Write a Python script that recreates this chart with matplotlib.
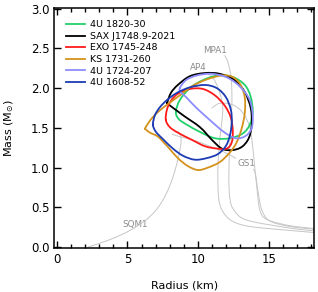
import matplotlib
matplotlib.use("Agg")
import matplotlib.pyplot as plt
from matplotlib.ticker import MultipleLocator
from matplotlib.path import Path
from matplotlib.patches import PathPatch
from matplotlib.lines import Line2D

plt.rcParams['font.family'] = ['DejaVu Sans']

# ---- data (radius in km, mass in solar masses) ----
names = ["4U 1820-30", "SAX J1748.9-2021", "EXO 1745-248",
         "KS 1731-260", "4U 1724-207", "4U 1608-52"]
colors = ["#22d16a", "#000000", "#ff1a1a", "#d4921c", "#8c8cff", "#1c3cb4"]

green_R = [8.43, 8.71, 9.42, 10.34, 11.40, 12.46, 13.31, 13.73, 13.87, 13.66, 13.17, 12.25, 11.19, 10.13, 9.21, 8.64]
green_M = [1.70, 1.85, 2.00, 2.10, 2.16, 2.14, 2.04, 1.89, 1.70, 1.54, 1.43, 1.37, 1.37, 1.45, 1.54, 1.61]

# black and orange have a sharp corner at their first (= last) point
black_R = [7.80, 8.08, 8.57, 9.42, 10.48, 11.54, 12.60, 13.31, 13.73, 13.80, 13.59, 13.09, 12.39, 11.68, 10.98, 10.13, 8.93, 7.80]
black_M = [1.81, 1.94, 2.04, 2.15, 2.19, 2.18, 2.10, 1.95, 1.75, 1.54, 1.37, 1.26, 1.22, 1.24, 1.35, 1.51, 1.66, 1.81]

red_R = [7.72, 7.80, 8.08, 8.57, 9.42, 10.34, 11.19, 11.89, 12.32, 12.46, 12.39, 12.04, 11.33, 10.48, 9.56, 8.57, 8.00]
red_M = [1.60, 1.73, 1.84, 1.93, 1.99, 1.99, 1.91, 1.78, 1.63, 1.46, 1.32, 1.24, 1.24, 1.27, 1.35, 1.44, 1.51]

orange_R = [6.24, 6.59, 7.16, 7.87, 8.71, 9.63, 10.62, 11.68, 12.46, 13.02, 13.31, 13.31, 13.10, 12.74, 12.25, 11.54, 10.69, 9.99, 9.28, 8.57, 7.87, 7.16, 6.59, 6.24]
orange_M = [1.49, 1.59, 1.70, 1.80, 1.91, 2.03, 2.11, 2.16, 2.14, 2.04, 1.88, 1.69, 1.50, 1.32, 1.19, 1.07, 1.00, 0.97, 1.02, 1.12, 1.26, 1.39, 1.44, 1.49]

purple_R = [8.71, 9.14, 9.92, 10.98, 12.11, 13.02, 13.66, 13.87, 13.80, 13.38, 12.67, 11.82, 10.83, 9.84, 9.14, 8.78]
purple_M = [2.00, 2.10, 2.16, 2.18, 2.13, 2.01, 1.85, 1.66, 1.50, 1.40, 1.37, 1.45, 1.60, 1.76, 1.89, 1.95]

blue_R = [6.81, 6.95, 7.30, 7.80, 8.50, 9.42, 10.48, 11.33, 11.96, 12.32, 12.39, 12.25, 11.96, 11.40, 10.62, 9.77, 8.93, 8.22, 7.51, 7.02]
blue_M = [1.54, 1.66, 1.76, 1.85, 1.94, 2.01, 2.04, 2.00, 1.89, 1.73, 1.56, 1.40, 1.27, 1.17, 1.12, 1.10, 1.15, 1.24, 1.36, 1.45]

# ---- equations of state ----
ap4_R = [10.55, 11.05, 11.40, 11.68, 11.75, 11.61, 11.47, 11.40, 11.47, 11.75, 12.39, 13.66, 16.49, 18.47]
ap4_M = [2.20, 2.13, 2.01, 1.85, 1.70, 1.47, 1.22, 0.91, 0.60, 0.45, 0.33, 0.26, 0.21, 0.18]

mpa1_R = [11.89, 12.11, 12.32, 12.39, 12.39, 12.32, 12.25, 12.18, 12.25, 12.53, 13.45, 16.49, 18.47]
mpa1_M = [2.41, 2.33, 2.16, 1.98, 1.76, 1.54, 1.29, 0.91, 0.62, 0.47, 0.34, 0.24, 0.20]

eos3_R = [10.98, 11.54, 12.46, 13.17, 13.66, 13.87, 14.01, 14.16, 14.37, 14.86, 16.49, 18.47]
eos3_M = [1.75, 1.81, 1.79, 1.69, 1.51, 1.26, 1.01, 0.76, 0.47, 0.35, 0.27, 0.23]

gs1_R = [8.16, 8.71, 9.77, 10.83, 11.68, 12.46, 12.95, 13.52, 14.01, 14.23, 14.51, 15.07, 16.49, 18.47]
gs1_M = [1.42, 1.39, 1.34, 1.27, 1.21, 1.14, 1.09, 1.04, 0.95, 0.72, 0.47, 0.33, 0.26, 0.22]

sqm1_R = [2.21, 3.06, 4.12, 5.18, 6.24, 7.09, 7.72, 8.22, 8.57, 8.78, 8.78, 8.57]
sqm1_M = [0.00, 0.05, 0.12, 0.21, 0.33, 0.48, 0.66, 0.88, 1.10, 1.29, 1.39, 1.46]

eos_labels = ["MPA1", "AP4", "GS1", "SQM1"]
eos_label_R = [11.2, 10.0, 13.4, 5.55]
eos_label_M = [2.48, 2.26, 1.05, 0.28]


def smooth_path(xs, ys, closed):
    """Smooth (Catmull-Rom style) Bezier path through the given points."""
    pts = list(zip(xs, ys))
    n = len(pts)
    verts = [pts[0]]
    codes = [Path.MOVETO]
    segs = n if closed else n - 1
    for i in range(segs):
        p0 = pts[(i - 1) % n] if (closed or i > 0) else pts[0]
        p1 = pts[i % n]
        p2 = pts[(i + 1) % n]
        p3 = pts[(i + 2) % n] if (closed or i + 2 < n) else pts[n - 1]
        c1 = (p1[0] + (p2[0] - p0[0]) / 6.0, p1[1] + (p2[1] - p0[1]) / 6.0)
        c2 = (p2[0] - (p3[0] - p1[0]) / 6.0, p2[1] - (p3[1] - p1[1]) / 6.0)
        verts += [c1, c2, p2]
        codes += [Path.CURVE4] * 3
    return Path(verts, codes)


def draw_curve(ax, xs, ys, closed, color, lw, z):
    patch = PathPatch(smooth_path(xs, ys, closed), facecolor="none",
                      edgecolor=color, lw=lw, zorder=z, capstyle="round",
                      joinstyle="round")
    ax.add_patch(patch)


# ---- figure ----
fig = plt.figure(figsize=(3.18, 2.92), dpi=100)
ax = fig.add_axes([0.171, 0.151, 0.816, 0.822])

gray = "#c6c6c6"
for R, M in [(ap4_R, ap4_M), (mpa1_R, mpa1_M), (eos3_R, eos3_M), (sqm1_R, sqm1_M)]:
    draw_curve(ax, R, M, False, gray, 0.7, 1)
draw_curve(ax, gs1_R, gs1_M, False, gray, 0.7, 0.8)

for txt, x, y in zip(eos_labels, eos_label_R, eos_label_M):
    kw = {}
    if txt == "GS1":
        kw = dict(bbox=dict(facecolor="white", edgecolor="none", pad=0.5))
    ax.text(x, y, txt, color="#8a8a8a", fontsize=6.3, ha="center", va="center",
            zorder=0.9, **kw)

contours = [(green_R, green_M, True), (black_R, black_M, False),
            (red_R, red_M, True), (orange_R, orange_M, False),
            (purple_R, purple_M, True), (blue_R, blue_M, True)]
handles = []
for (R, M, closed), c, n in zip(contours, colors, names):
    draw_curve(ax, R, M, closed, c, 1.3, 3)
    handles.append(Line2D([], [], color=c, lw=1.3, label=n))

ax.set_xlim(-0.17, 18.2)
ax.set_ylim(-0.01, 3.01)
ax.xaxis.set_major_locator(MultipleLocator(5))
ax.xaxis.set_minor_locator(MultipleLocator(1))
ax.yaxis.set_major_locator(MultipleLocator(0.5))
ax.tick_params(which="both", direction="in", top=True, right=True, width=1.0,
               labelsize=8.5)
ax.tick_params(axis="x", pad=4)
ax.tick_params(which="major", length=5)
ax.tick_params(which="minor", length=3)
for s in ax.spines.values():
    s.set_linewidth(1.1)

ax.set_xlabel("Radius (km)", fontsize=8, labelpad=10)
ax.set_ylabel("Mass (M$_{\\odot}$)", fontsize=8, labelpad=11)

leg = ax.legend(handles=handles, loc="upper left", bbox_to_anchor=(0.045, 0.948),
                frameon=False, fontsize=6.8, handlelength=2.0, handletextpad=0.5,
                labelspacing=0.27, borderpad=0, borderaxespad=0)

fig.savefig("out.png", dpi=100)
